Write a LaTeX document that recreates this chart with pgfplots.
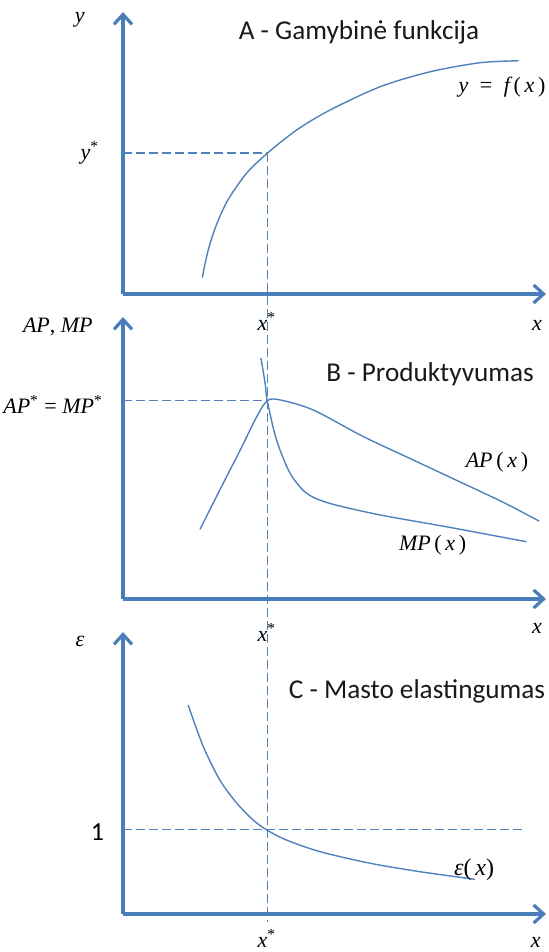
\documentclass[border=0pt]{standalone}
\usepackage{fontspec}
\setmainfont{Carlito}
\newfontfamily\tnr{Liberation Serif}
\usepackage{pgfplots}
\pgfplotsset{compat=1.18}
\usetikzlibrary{arrows.meta}

\definecolor{axblue}{HTML}{4A7EBB}
\definecolor{curveblue}{HTML}{4F81BD}

% Times-like italic labels, as in the equation editor
\newcommand{\mi}[1]{{\tnr\itshape #1}}
\newcommand{\mlab}{\tnr\fontsize{11}{12}\selectfont}
\newcommand{\ttl}{\fontsize{13.6}{15}\selectfont\color{black!90}}
\newcommand{\ofx}{\,(\,\mi{x}\,)}

\pgfplotsset{
  panel/.style={
    scale only axis, width=211.5pt, height=141pt,
    xmin=0, xmax=10, ymin=0, ymax=10,
    axis lines=left,
    axis line style={line width=1.6pt, axblue,
      -{Straight Barb[length=5pt,width=9pt,line width=1.6pt]}},
    xtick=\empty, ytick=\empty,
    clip=false, anchor=south west,
    every node/.append style={inner sep=1pt},
  },
  curve/.style={curveblue, line width=0.7pt, smooth, no markers},
  guide/.style={curveblue, line width=0.7pt, dash pattern=on 4.5pt off 2pt, no markers},
}

\begin{document}
\begin{tikzpicture}
\useasboundingbox (0,0) rectangle (274.5pt,476pt);

% A - production function
\begin{axis}[panel, at={(61.5pt,329pt)}]
  \addplot[curve] coordinates {
    (1.875,0.58)(1.93,1.01)(2.00,1.47)(2.08,1.90)(2.20,2.42)(2.35,2.95)
    (2.53,3.46)(2.92,4.28)(3.41,4.99)(4.11,5.82)(4.89,6.52)(6.08,7.35)
    (7.26,7.88)(8.44,8.20)(9.35,8.27)
  };
  \addplot[guide] coordinates {(0,5)(3.41,5)};
  \addplot[guide] coordinates {(3.41,5)(3.41,-22.27)};
  \node at (axis cs:5.58,9.29) {\ttl A - Gamybinė funkcija};
  \node at (axis cs:8.96,7.34) {\mlab\mi{y}\; = \;\mi{f}\ofx};
  \node at (axis cs:-1.02,9.72) {\mlab\mi{y}};
  \node[anchor=east] at (axis cs:-0.4,5.0) {\mlab\mi{y}\textsuperscript{*}};
  \node at (axis cs:3.4,-0.96) {\mlab\mi{x}\textsuperscript{*}};
  \node at (axis cs:9.79,-1.1) {\mlab\mi{x}};
\end{axis}

% B - productivity
\begin{axis}[panel, at={(61.5pt,176.5pt)}]
  \addplot[curve] coordinates {
    (1.82,2.47)(2.29,3.87)(2.77,5.28)(3.16,6.46)(3.41,7.03)(3.71,7.06)
    (4.50,6.70)(5.68,5.76)(6.86,4.93)(8.04,4.10)(9.00,3.42)(9.84,2.76)
  };
  \addplot[curve] coordinates {
    (3.26,8.54)(3.36,7.65)(3.41,7.03)(3.63,5.64)(3.95,4.46)(4.34,3.75)
    (4.89,3.39)(6.08,2.98)(7.65,2.56)(9.54,2.03)
  };
  \addplot[guide] coordinates {(0,7.04)(3.41,7.04)};
  \node at (axis cs:7.26,7.98) {\ttl B - Produktyvumas};
  \node at (axis cs:8.84,4.86) {\mlab\mi{AP}\ofx};
  \node at (axis cs:7.32,1.91) {\mlab\mi{MP}\ofx};
  \node at (axis cs:-1.54,9.65) {\mlab\mi{AP}, \mi{MP}};
  \node[anchor=east] at (axis cs:-0.31,6.9) {\mlab\mi{AP}\textsuperscript{*} = \mi{MP}\textsuperscript{*}};
  \node at (axis cs:3.4,-1.2) {\mlab\mi{x}\textsuperscript{*}};
  \node at (axis cs:9.79,-1.03) {\mlab\mi{x}};
\end{axis}

% C - returns to scale
\begin{axis}[panel, at={(61.5pt,19pt)}]
  \addplot[curve] coordinates {
    (1.54,7.41)(1.90,5.93)(2.29,4.75)(2.69,3.93)(3.08,3.33)(3.40,2.98)
    (3.87,2.62)(4.66,2.21)(5.84,1.80)(7.02,1.50)(8.32,1.23)
  };
  \addplot[guide] coordinates {(0,3)(9.46,3)};
  \node at (axis cs:6.95,7.91) {\ttl C - Masto elastingumas};
  \node at (axis cs:8.3,1.56) {\mlab\fontsize{12}{13}\selectfont\mi{ε}(\,\mi{x})};
  \node at (axis cs:-1.02,9.65) {\mlab\mi{ε}};
  \node[anchor=east] at (axis cs:-0.28,2.9) {\fontsize{13}{15}\selectfont 1};
  \node at (axis cs:3.4,-0.88) {\mlab\mi{x}\textsuperscript{*}};
  \node at (axis cs:9.76,-1.0) {\mlab\mi{x}};
\end{axis}
\end{tikzpicture}
\end{document}
